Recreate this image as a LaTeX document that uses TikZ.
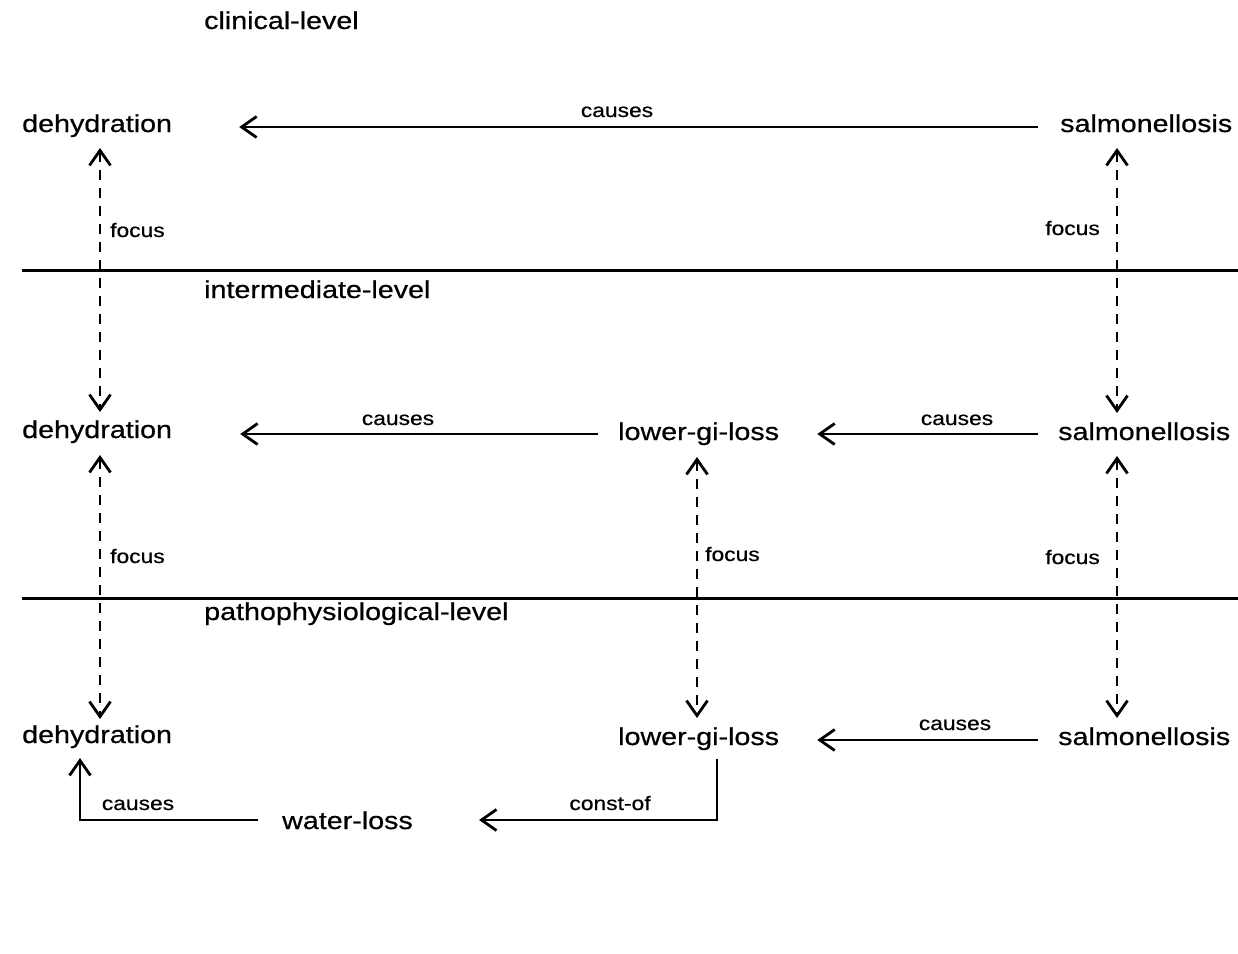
\documentclass[tikz,border=0pt]{standalone}
\usepackage{fontspec}
\setmainfont{Liberation Sans}[FakeStretch=1.17,FakeBold=0.6]
\usetikzlibrary{arrows.meta,calc}

\begin{document}
\begin{tikzpicture}[x=1pt,y=-1pt,
  term/.style={font=\fontsize{24.5}{28}\selectfont, inner sep=0pt, anchor=base west},
  rel/.style={font=\fontsize{19.5}{22}\selectfont, inner sep=0pt, anchor=base},
  barb/.tip={Straight Barb[length=15pt,width=21pt,line width=2.8pt]},
  causearrow/.style={line width=2pt, -barb},
  focusarrow/.style={line width=2.2pt, dash pattern=on 10pt off 8pt, barb-barb},
  levelrule/.style={line width=3pt}]
\useasboundingbox (0,0) rectangle (1238,953);

% level headings and separators
\node[term] (lc) at (204,29) {clinical-level};
\node[term] (li) at (204,298) {intermediate-level};
\node[term] (lp) at (204,620) {pathophysiological-level};
\draw[levelrule] (22,270) -- (1238,270);
\draw[levelrule] (22,598) -- (1238,598);

% clinical level
\node[term] (d1) at (22,132) {dehydration};
\node[term] (s1) at (1060,132) {salmonellosis};
\draw[causearrow] ($(s1.base west)+(-22,-5)$) -- ($(d1.base east)+(67,-5)$);
\node[rel] (c1) at (617,117) {causes};

% intermediate level
\node[term] (d2) at (22,438) {dehydration};
\node[term] (l2) at (618,440) {lower-gi-loss};
\node[term] (s2) at (1058,440) {salmonellosis};
\draw[causearrow] ($(l2.base west)+(-20,-6)$) -- ($(d2.base east)+(68,-4)$);
\draw[causearrow] ($(s2.base west)+(-20,-6)$) -- ($(l2.base east)+(38,-6)$);
\node[rel] (c2) at (398,425) {causes};
\node[rel] (c3) at (957,425) {causes};

% pathophysiological level
\node[term] (d3) at (22,743) {dehydration};
\node[term] (l3) at (618,745) {lower-gi-loss};
\node[term] (s3) at (1058,745) {salmonellosis};
\node[term] (w3) at (282,829) {water-loss};
\draw[causearrow] ($(s3.base west)+(-20,-5)$) -- ($(l3.base east)+(38,-5)$);
\node[rel] (c4) at (955,730) {causes};
\draw[causearrow] ($(l3.base west)+(99,14)$) |- ($(w3.base east)+(66,-9)$);
\node[rel] (k1) at (610,810) {const-of};
\draw[causearrow] ($(w3.base west)+(-24,-9)$) -| ($(d3.base west)+(58,15)$);
\node[rel] (c5) at (138,810) {causes};

% focus links between levels
\draw[focusarrow] ($(d1.base west)+(78,16)$) -- ($(d2.base west)+(78,-26)$);
\draw[focusarrow] ($(d2.base west)+(78,17)$) -- ($(d3.base west)+(78,-24)$);
\draw[focusarrow] ($(l2.base west)+(79,17)$) -- ($(l3.base west)+(79,-27)$);
\draw[focusarrow] ($(s1.base west)+(57,16)$) -- ($(s2.base west)+(59,-27)$);
\draw[focusarrow] ($(s2.base west)+(59,16)$) -- ($(s3.base west)+(59,-27)$);
\node[rel, anchor=base west] (f1) at (110,237) {focus};
\node[rel, anchor=base west] (f2) at (110,563) {focus};
\node[rel, anchor=base west] (f3) at (705,561) {focus};
\node[rel, anchor=base east] (f4) at (1100,235) {focus};
\node[rel, anchor=base east] (f5) at (1100,564) {focus};
\end{tikzpicture}
\end{document}
